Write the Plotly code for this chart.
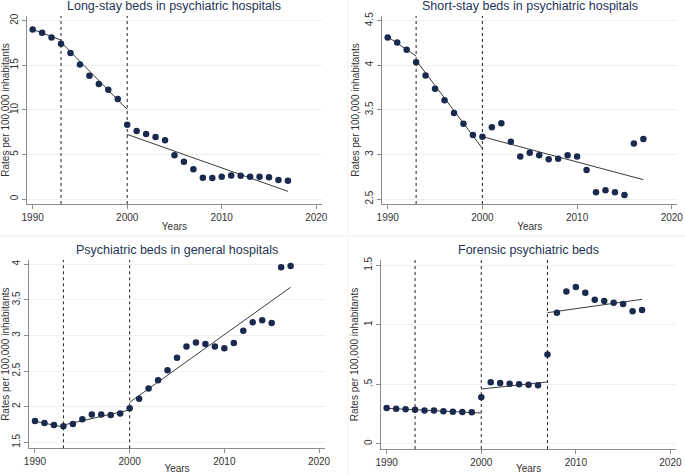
import plotly.graph_objects as go

# =============================================================================
# Data
# =============================================================================
years = list(range(1990, 2018))

long_stay = [19.03, 18.65, 18.13, 17.42, 16.37, 15.10, 13.83, 12.90, 12.26, 11.21,
             8.34, 7.63, 7.29, 6.95, 6.58, 4.90, 4.19, 3.33, 2.39, 2.36,
             2.50, 2.65, 2.62, 2.50, 2.50, 2.43, 2.13, 2.06]
short_stay = [4.313, 4.257, 4.175, 4.033, 3.887, 3.737, 3.607, 3.464, 3.345, 3.218,
              3.199, 3.304, 3.349, 3.143, 2.978, 3.020, 2.990, 2.945, 2.952, 2.990,
              2.978, 2.825, 2.575, 2.597, 2.575, 2.545, 3.124, 3.173]
general = [1.800, 1.772, 1.743, 1.725, 1.757, 1.823, 1.889, 1.889, 1.884, 1.903,
           1.978, 2.113, 2.254, 2.371, 2.511, 2.689, 2.844, 2.900, 2.881, 2.844,
           2.820, 2.895, 3.068, 3.185, 3.213, 3.176, 3.958, 3.977]
forensic = [0.300, 0.294, 0.289, 0.286, 0.280, 0.278, 0.272, 0.269, 0.266, 0.264,
            0.390, 0.516, 0.510, 0.505, 0.499, 0.496, 0.491, 0.749, 1.102, 1.281,
            1.318, 1.270, 1.211, 1.200, 1.186, 1.175, 1.113, 1.124]

# fitted segments: (start year, end year, fitted start, fitted end)
fit_long = [(1990, 1993, 19.03, 17.83), (1993, 2000, 17.60, 10.05), (2000, 2017, 7.25, 0.86)]
fit_short = [(1990, 1993, 4.320, 4.104), (1993, 2000, 4.055, 3.068), (2000, 2017, 3.199, 2.717)]
fit_general = [(1990, 1993, 1.795, 1.715), (1993, 2000, 1.743, 1.954), (2000, 2017, 2.062, 3.677)]
fit_forensic = [(1990, 2000, 0.297, 0.258), (2000, 2007, 0.460, 0.519), (2007, 2017, 1.102, 1.214)]

breaks_a = [1993, 2000]
breaks_b = [1993, 2000, 2007]

x_ticks = [1990, 2000, 2010, 2020]

panels = [
    dict(title="Long-stay beds in psychiatric hospitals", y=long_stay, fit=fit_long, breaks=breaks_a,
         yticks=[0, 5, 10, 15, 20], ylabels=["0", "5", "10", "15", "20"], yrange=[-0.56, 20.53],
         xdom=[0.0394, 0.4700], ydom=[0.5696, 0.9662]),
    dict(title="Short-stay beds in psychiatric hospitals", y=short_stay, fit=fit_short, breaks=breaks_a,
         yticks=[2.5, 3, 3.5, 4, 4.5], ylabels=["2.5", "3", "3.5", "4", "4.5"], yrange=[2.444, 4.553],
         xdom=[0.5577, 0.9890], ydom=[0.5696, 0.9662]),
    dict(title="Psychiatric beds in general hospitals", y=general, fit=fit_general, breaks=breaks_a,
         yticks=[1.5, 2, 2.5, 3, 3.5, 4], ylabels=["1.5", "2", "2.5", "3", "3.5", "4"], yrange=[1.416, 4.06],
         xdom=[0.0428, 0.4740], ydom=[0.0542, 0.4515]),
    dict(title="Forensic psychiatric beds", y=forensic, fit=fit_forensic, breaks=breaks_b,
         yticks=[0, 0.5, 1, 1.5], ylabels=["0", ".5", "1", "1.5"], yrange=[-0.045, 1.545],
         xdom=[0.5562, 0.9870], ydom=[0.0527, 0.4515]),
]

MARKER = "#1a2a4f"
TITLE = "#1e3556"
AXIS = "#8c8c8c"
TEXT = "#333333"
FONT = "Liberation Sans, Arial, sans-serif"

fig = go.Figure()

for i, p in enumerate(panels):
    n = "" if i == 0 else str(i + 1)
    xa, ya = "x" + n, "y" + n

    # fitted segments
    fx, fy = [], []
    for x0, x1, y0, y1 in p["fit"]:
        fx += [x0, x1, None]
        fy += [y0, y1, None]
    fig.add_trace(go.Scatter(x=fx, y=fy, mode="lines", line=dict(color="#3a3a3a", width=1),
                             xaxis=xa, yaxis=ya, showlegend=False, hoverinfo="skip"))
    # observed points
    fig.add_trace(go.Scatter(x=years, y=p["y"], mode="markers",
                             marker=dict(color=MARKER, size=6.5),
                             xaxis=xa, yaxis=ya, showlegend=False))

    # break lines
    for b in p["breaks"]:
        fig.add_shape(type="line", xref=xa, yref=ya + " domain", x0=b, x1=b, y0=0, y1=1,
                      line=dict(color="#222222", width=1, dash="dot"))

    fig.update_layout({
        "xaxis" + n: dict(domain=p["xdom"], anchor=ya, range=[1989.4, 2020.6], automargin=False,
                          tickvals=x_ticks, ticks="outside", ticklen=4, tickcolor=AXIS,
                          showline=True, linecolor=AXIS, linewidth=1, showgrid=False, zeroline=False,
                          tickfont=dict(size=10, color=TEXT, family=FONT),
                          title=dict(text="Years", font=dict(size=10, color=TEXT, family=FONT), standoff=0)),
        "yaxis" + n: dict(domain=p["ydom"], anchor=xa, range=p["yrange"], automargin=False,
                          tickvals=p["yticks"], ticktext=p["ylabels"], tickangle=-90,
                          ticks="outside", ticklen=4, tickcolor=AXIS,
                          showline=True, linecolor=AXIS, linewidth=1,
                          showgrid=True, gridcolor="#efefef", gridwidth=1, zeroline=False,
                          tickfont=dict(size=10, color=TEXT, family=FONT),
                          title=dict(text="Rates per 100,000 inhabitants",
                                     font=dict(size=10, color=TEXT, family=FONT), standoff=2)),
    })

    fig.add_annotation(text=p["title"], xref="paper", yref="paper",
                       x=(p["xdom"][0] + p["xdom"][1]) / 2, y=p["ydom"][1] + 0.003,
                       xanchor="center", yanchor="bottom", showarrow=False,
                       font=dict(size=12.5, color=TITLE, family=FONT))

# faint borders between the combined sub-graphs
fig.add_shape(type="line", xref="paper", yref="paper", x0=0, x1=1, y0=0.502, y1=0.502,
              line=dict(color="#eeeeee", width=1))
fig.add_shape(type="line", xref="paper", yref="paper", x0=0.508, x1=0.508, y0=0, y1=1,
              line=dict(color="#f2f2f2", width=1))

fig.update_layout(width=685, height=474, margin=dict(l=0, r=0, t=0, b=0),
                  paper_bgcolor="white", plot_bgcolor="white")

# the page body has a default 8px margin; drop it so the figure fills the window
fig.write_html("out.html", config={"displayModeBar": False},
               post_script="document.body.style.margin='0';")
